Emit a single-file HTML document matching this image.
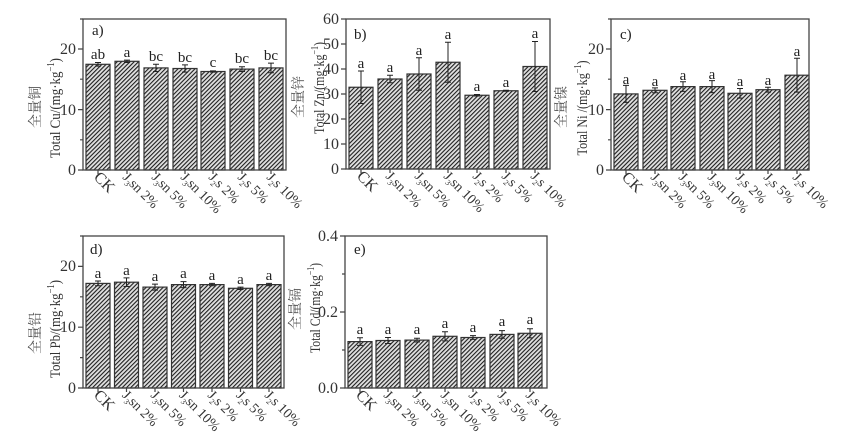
<!DOCTYPE html>
<html><head><meta charset="utf-8"><style>
html,body{margin:0;padding:0;background:#fff;}
svg{display:block;}
svg text{font-family:"Liberation Serif","Times New Roman",serif;}
.ax{fill:none;stroke:#444;stroke-width:1.3}
.bar{fill:url(#h);stroke:#333;stroke-width:1.2}
.eb{stroke:#222;stroke-width:1;fill:none}
.tl{font-size:16px;fill:#333;text-anchor:end}
.lt{font-size:15px;fill:#222;text-anchor:middle}
.xl text{font-size:14px;fill:#333}
.yt{font-size:15px;fill:#333;text-anchor:middle}
svg text.cn{font-size:14px;fill:#555;text-anchor:middle;font-family:"Noto Serif CJK SC","Noto Sans CJK SC",serif}
.pl{font-size:15px;fill:#222}
.tk{stroke:#444;stroke-width:1.2}
</style></head><body>
<svg width="846" height="441" viewBox="0 0 846 441" xmlns="http://www.w3.org/2000/svg">
<defs><pattern id="h" width="3" height="3" patternUnits="userSpaceOnUse" patternTransform="rotate(45)">
<rect width="3" height="3" fill="#e0e0e0"/><line x1="0" y1="0" x2="0" y2="3" stroke="#1e1e1e" stroke-width="2.2"/></pattern></defs>

<!-- Panel a -->
<g>
<rect class="bar" x="86" y="64.3" width="24" height="105.7"/>
<rect class="bar" x="115" y="61.3" width="24" height="108.7"/>
<rect class="bar" x="144" y="67.9" width="24" height="102.1"/>
<rect class="bar" x="173" y="68.5" width="24" height="101.5"/>
<rect class="bar" x="201" y="71.5" width="24" height="98.5"/>
<rect class="bar" x="230" y="69.1" width="24" height="100.9"/>
<rect class="bar" x="259" y="67.9" width="24" height="102.1"/>
<path class="eb" d="M98 62.5V66.1M95 62.5h6M95 66.1h6 M127 60.1V62.5M124 60.1h6M124 62.5h6 M156 64.3V71.5M153 64.3h6M153 71.5h6 M185 64.9V72.1M182 64.9h6M182 72.1h6 M213 70.9V72.1M210 70.9h6M210 72.1h6 M242 66.7V71.5M239 66.7h6M239 71.5h6 M271 63.1V72.7M268 63.1h6M268 72.7h6"/>
<text class="lt" x="98" y="59">ab</text><text class="lt" x="127" y="57">a</text><text class="lt" x="156" y="61">bc</text><text class="lt" x="185" y="62">bc</text><text class="lt" x="213" y="67">c</text><text class="lt" x="242" y="63">bc</text><text class="lt" x="271" y="60">bc</text>
<rect class="ax" x="83" y="19" width="203" height="151"/>
<path class="tk" d="M78 170h5M78 109.6h5M78 49h5M80 139.8h3M80 79.2h3M80 19h3 M98 170v4M127 170v4M156 170v4M185 170v4M213 170v4M242 170v4M271 170v4"/>
<text class="tl" x="76" y="175">0</text><text class="tl" x="76" y="115">10</text><text class="tl" x="76" y="54">20</text>
<text class="pl" x="92" y="35">a)</text>
<text class="cn" transform="translate(40,107) rotate(-90)">全量铜</text>
<text class="yt" transform="translate(60,108) rotate(-90)" textLength="100" lengthAdjust="spacingAndGlyphs">Total Cu/(mg·kg<tspan font-size="10" dy="-6">−1</tspan><tspan dy="6">)</tspan></text>
</g>

<!-- Panel b -->
<g>
<rect class="bar" x="349" y="87.25" width="24" height="81.75"/>
<rect class="bar" x="378" y="79" width="24" height="90"/>
<rect class="bar" x="407" y="74" width="24" height="95"/>
<rect class="bar" x="436" y="62.25" width="24" height="106.75"/>
<rect class="bar" x="465" y="95.25" width="24" height="73.75"/>
<rect class="bar" x="494" y="90.75" width="24" height="78.25"/>
<rect class="bar" x="523" y="66.5" width="24" height="102.5"/>
<path class="eb" d="M361 71V103.5M358 71h6M358 103.5h6 M390 75.25V82.75M387 75.25h6M387 82.75h6 M419 57.75V90.25M416 57.75h6M416 90.25h6 M448 42.25V82.25M445 42.25h6M445 82.25h6 M477 94.5V96M474 94.5h6M474 96h6 M506 90.25V91.25M503 90.25h6M503 91.25h6 M535 41.5V91.5M532 41.5h6M532 91.5h6"/>
<text class="lt" x="361" y="68">a</text><text class="lt" x="390" y="72">a</text><text class="lt" x="419" y="55">a</text><text class="lt" x="448" y="39">a</text><text class="lt" x="477" y="91">a</text><text class="lt" x="506" y="87">a</text><text class="lt" x="535" y="38">a</text>
<rect class="ax" x="346" y="19" width="204" height="150"/>
<path class="tk" d="M341 169h5M341 144h5M341 119h5M341 94h5M341 69h5M341 44h5M341 19h5 M361 169v4M390 169v4M419 169v4M448 169v4M477 169v4M506 169v4M535 169v4"/>
<text class="tl" x="339" y="174">0</text><text class="tl" x="339" y="149">10</text><text class="tl" x="339" y="124">20</text><text class="tl" x="339" y="99">30</text><text class="tl" x="339" y="74">40</text><text class="tl" x="339" y="49">50</text><text class="tl" x="339" y="24">60</text>
<text class="cn" transform="translate(303,97) rotate(-90)">全量锌</text>
<text class="pl" x="354" y="39">b)</text>
<text class="yt" transform="translate(324,88) rotate(-90)" textLength="92" lengthAdjust="spacingAndGlyphs">Total Zn/(mg·kg<tspan font-size="10" dy="-6">−1</tspan><tspan dy="6">)</tspan></text>
</g>

<!-- Panel c -->
<g>
<rect class="bar" x="614" y="93.9" width="24" height="76.1"/>
<rect class="bar" x="643" y="90.3" width="24" height="79.7"/>
<rect class="bar" x="671" y="86.6" width="24" height="83.4"/>
<rect class="bar" x="700" y="86.6" width="24" height="83.4"/>
<rect class="bar" x="728" y="93.3" width="24" height="76.7"/>
<rect class="bar" x="756" y="89.7" width="24" height="80.3"/>
<rect class="bar" x="785" y="75.2" width="24" height="94.8"/>
<path class="eb" d="M626 85.4V102.4M623 85.4h6M623 102.4h6 M655 87.9V92.7M652 87.9h6M652 92.7h6 M683 81.8V91.4M680 81.8h6M680 91.4h6 M712 80.6V92.6M709 80.6h6M709 92.6h6 M740 88.5V98.1M737 88.5h6M737 98.1h6 M768 87.3V92.1M765 87.3h6M765 92.1h6 M797 58.3V92.1M794 58.3h6M794 92.1h6"/>
<text class="lt" x="626" y="84">a</text><text class="lt" x="655" y="86">a</text><text class="lt" x="683" y="80">a</text><text class="lt" x="712" y="79">a</text><text class="lt" x="740" y="86">a</text><text class="lt" x="768" y="85">a</text><text class="lt" x="797" y="56">a</text>
<rect class="ax" x="611" y="19" width="198" height="151"/>
<path class="tk" d="M606 170h5M606 109.6h5M606 49h5M608 139.8h3M608 79.2h3M608 19h3 M626 170v4M655 170v4M683 170v4M712 170v4M740 170v4M768 170v4M797 170v4"/>
<text class="tl" x="604" y="175">0</text><text class="tl" x="604" y="115">10</text><text class="tl" x="604" y="54">20</text>
<text class="pl" x="620" y="39">c)</text>
<text class="cn" transform="translate(566,107) rotate(-90)">全量镍</text>
<text class="yt" transform="translate(587,108) rotate(-90)" textLength="95" lengthAdjust="spacingAndGlyphs">Total Ni /(mg·kg<tspan font-size="10" dy="-6">−1</tspan><tspan dy="6">)</tspan></text>
</g>

<!-- Panel d -->
<g>
<rect class="bar" x="86" y="283.4" width="24" height="104.6"/>
<rect class="bar" x="114.5" y="282.2" width="24" height="105.8"/>
<rect class="bar" x="143" y="287.1" width="24" height="100.9"/>
<rect class="bar" x="171.5" y="284.6" width="24" height="103.4"/>
<rect class="bar" x="200" y="284.6" width="24" height="103.4"/>
<rect class="bar" x="228.5" y="288.3" width="24" height="99.7"/>
<rect class="bar" x="257" y="284.6" width="24" height="103.4"/>
<path class="eb" d="M98 281V285.8M95 281h6M95 285.8h6 M126.5 277.9V286.5M123.5 277.9h6M123.5 286.5h6 M155 284.1V290.1M152 284.1h6M152 290.1h6 M183.5 281.6V287.6M180.5 281.6h6M180.5 287.6h6 M212 283.4V285.8M209 283.4h6M209 285.8h6 M240.5 287.1V289.5M237.5 287.1h6M237.5 289.5h6 M269 283.4V285.8M266 283.4h6M266 285.8h6"/>
<text class="lt" x="98" y="278">a</text><text class="lt" x="126.5" y="275">a</text><text class="lt" x="155" y="281">a</text><text class="lt" x="183.5" y="278">a</text><text class="lt" x="212" y="280">a</text><text class="lt" x="240.5" y="284">a</text><text class="lt" x="269" y="280">a</text>
<rect class="ax" x="83" y="236" width="201" height="152"/>
<path class="tk" d="M78 388h5M78 327.2h5M78 266.4h5M80 357.6h3M80 296.8h3M80 236h3 M98 388v4M126.5 388v4M155 388v4M183.5 388v4M212 388v4M240.5 388v4M269 388v4"/>
<text class="tl" x="76" y="393">0</text><text class="tl" x="76" y="332">10</text><text class="tl" x="76" y="271">20</text>
<text class="pl" x="90" y="254">d)</text>
<text class="cn" transform="translate(40,333) rotate(-90)">全量铅</text>
<text class="yt" transform="translate(60,329) rotate(-90)" textLength="98" lengthAdjust="spacingAndGlyphs">Total Pb/(mg·kg<tspan font-size="10" dy="-6">−1</tspan><tspan dy="6">)</tspan></text>
</g>

<!-- Panel e -->
<g>
<rect class="bar" x="348" y="341.6" width="24" height="46.4"/>
<rect class="bar" x="376" y="340.5" width="24" height="47.5"/>
<rect class="bar" x="405" y="340.1" width="24" height="47.9"/>
<rect class="bar" x="433" y="336.3" width="24" height="51.7"/>
<rect class="bar" x="461" y="337.5" width="24" height="50.5"/>
<rect class="bar" x="490" y="334.4" width="24" height="53.6"/>
<rect class="bar" x="518" y="333.3" width="24" height="54.7"/>
<path class="eb" d="M360 337.8V345.4M357 337.8h6M357 345.4h6 M388 337.5V343.5M385 337.5h6M385 343.5h6 M417 338.2V342M414 338.2h6M414 342h6 M445 331.7V340.9M442 331.7h6M442 340.9h6 M473 335.6V339.4M470 335.6h6M470 339.4h6 M502 330.6V338.2M499 330.6h6M499 338.2h6 M530 328.7V337.9M527 328.7h6M527 337.9h6"/>
<text class="lt" x="360" y="334">a</text><text class="lt" x="388" y="334">a</text><text class="lt" x="417" y="334">a</text><text class="lt" x="445" y="328">a</text><text class="lt" x="473" y="332">a</text><text class="lt" x="502" y="326">a</text><text class="lt" x="530" y="324">a</text>
<rect class="ax" x="345" y="236" width="202" height="152"/>
<path class="tk" d="M340 388h5M340 312h5M340 236h5M342 350h3M342 274h3 M360 388v4M388 388v4M417 388v4M445 388v4M473 388v4M502 388v4M530 388v4"/>
<text class="tl" x="338" y="393">0.0</text><text class="tl" x="338" y="317">0.2</text><text class="tl" x="338" y="241">0.4</text>
<text class="pl" x="354" y="254">e)</text>
<text class="cn" transform="translate(300,309) rotate(-90)">全量镉</text>
<text class="yt" transform="translate(320,308) rotate(-90)" textLength="90" lengthAdjust="spacingAndGlyphs">Total Cd/(mg·kg<tspan font-size="10" dy="-6">−1</tspan><tspan dy="6">)</tspan></text>
</g>

<!-- x labels -->
<g class="xl">
<text transform="translate(93,178) rotate(45)" style="font-size:16px">CK</text>
<text transform="translate(122,178) rotate(45)">J<tspan font-size="8" dy="3">3</tspan><tspan dy="-3">sn 2%</tspan></text>
<text transform="translate(151,178) rotate(45)">J<tspan font-size="8" dy="3">3</tspan><tspan dy="-3">sn 5%</tspan></text>
<text transform="translate(180,178) rotate(45)">J<tspan font-size="8" dy="3">3</tspan><tspan dy="-3">sn 10%</tspan></text>
<text transform="translate(208,178) rotate(45)">J<tspan font-size="8" dy="3">2</tspan><tspan dy="-3">s 2%</tspan></text>
<text transform="translate(237,178) rotate(45)">J<tspan font-size="8" dy="3">2</tspan><tspan dy="-3">s 5%</tspan></text>
<text transform="translate(266,178) rotate(45)">J<tspan font-size="8" dy="3">2</tspan><tspan dy="-3">s 10%</tspan></text>

<text transform="translate(356,177) rotate(45)" style="font-size:16px">CK</text>
<text transform="translate(385,177) rotate(45)">J<tspan font-size="8" dy="3">3</tspan><tspan dy="-3">sn 2%</tspan></text>
<text transform="translate(414,177) rotate(45)">J<tspan font-size="8" dy="3">3</tspan><tspan dy="-3">sn 5%</tspan></text>
<text transform="translate(443,177) rotate(45)">J<tspan font-size="8" dy="3">3</tspan><tspan dy="-3">sn 10%</tspan></text>
<text transform="translate(472,177) rotate(45)">J<tspan font-size="8" dy="3">2</tspan><tspan dy="-3">s 2%</tspan></text>
<text transform="translate(501,177) rotate(45)">J<tspan font-size="8" dy="3">2</tspan><tspan dy="-3">s 5%</tspan></text>
<text transform="translate(530,177) rotate(45)">J<tspan font-size="8" dy="3">2</tspan><tspan dy="-3">s 10%</tspan></text>

<text transform="translate(621,178) rotate(45)" style="font-size:16px">CK</text>
<text transform="translate(650,178) rotate(45)">J<tspan font-size="8" dy="3">3</tspan><tspan dy="-3">sn 2%</tspan></text>
<text transform="translate(678,178) rotate(45)">J<tspan font-size="8" dy="3">3</tspan><tspan dy="-3">sn 5%</tspan></text>
<text transform="translate(707,178) rotate(45)">J<tspan font-size="8" dy="3">3</tspan><tspan dy="-3">sn 10%</tspan></text>
<text transform="translate(735,178) rotate(45)">J<tspan font-size="8" dy="3">2</tspan><tspan dy="-3">s 2%</tspan></text>
<text transform="translate(763,178) rotate(45)">J<tspan font-size="8" dy="3">2</tspan><tspan dy="-3">s 5%</tspan></text>
<text transform="translate(792,178) rotate(45)">J<tspan font-size="8" dy="3">2</tspan><tspan dy="-3">s 10%</tspan></text>

<text transform="translate(93,396) rotate(45)" style="font-size:16px">CK</text>
<text transform="translate(121.5,396) rotate(45)">J<tspan font-size="8" dy="3">3</tspan><tspan dy="-3">sn 2%</tspan></text>
<text transform="translate(150,396) rotate(45)">J<tspan font-size="8" dy="3">3</tspan><tspan dy="-3">sn 5%</tspan></text>
<text transform="translate(178.5,396) rotate(45)">J<tspan font-size="8" dy="3">3</tspan><tspan dy="-3">sn 10%</tspan></text>
<text transform="translate(207,396) rotate(45)">J<tspan font-size="8" dy="3">2</tspan><tspan dy="-3">s 2%</tspan></text>
<text transform="translate(235.5,396) rotate(45)">J<tspan font-size="8" dy="3">2</tspan><tspan dy="-3">s 5%</tspan></text>
<text transform="translate(264,396) rotate(45)">J<tspan font-size="8" dy="3">2</tspan><tspan dy="-3">s 10%</tspan></text>

<text transform="translate(355,396) rotate(45)" style="font-size:16px">CK</text>
<text transform="translate(383,396) rotate(45)">J<tspan font-size="8" dy="3">3</tspan><tspan dy="-3">sn 2%</tspan></text>
<text transform="translate(412,396) rotate(45)">J<tspan font-size="8" dy="3">3</tspan><tspan dy="-3">sn 5%</tspan></text>
<text transform="translate(440,396) rotate(45)">J<tspan font-size="8" dy="3">3</tspan><tspan dy="-3">sn 10%</tspan></text>
<text transform="translate(468,396) rotate(45)">J<tspan font-size="8" dy="3">2</tspan><tspan dy="-3">s 2%</tspan></text>
<text transform="translate(497,396) rotate(45)">J<tspan font-size="8" dy="3">2</tspan><tspan dy="-3">s 5%</tspan></text>
<text transform="translate(525,396) rotate(45)">J<tspan font-size="8" dy="3">2</tspan><tspan dy="-3">s 10%</tspan></text>
</g>
</svg>
</body></html>
